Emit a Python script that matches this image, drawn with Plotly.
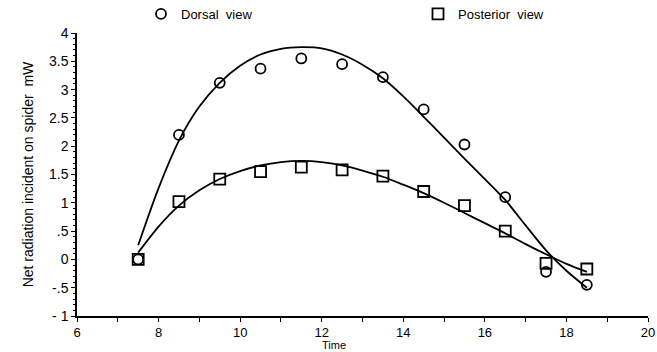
import plotly.graph_objects as go

time_pts = [7.5, 8.5, 9.5, 10.5, 11.5, 12.5, 13.5, 14.5, 15.5, 16.5, 17.5, 18.5]
dorsal = [0.0, 2.2, 3.12, 3.37, 3.55, 3.45, 3.22, 2.65, 2.03, 1.1, -0.22, -0.45]
posterior = [0.0, 1.02, 1.42, 1.55, 1.63, 1.58, 1.47, 1.2, 0.95, 0.5, -0.07, -0.17]

fit_x = [7.5, 8.0, 8.5, 9.0, 9.5, 10.0, 10.5, 11.0, 11.5, 12.0, 12.5, 13.0,
         13.5, 14.0, 14.5, 15.0, 15.5, 16.0, 16.5, 17.0, 17.5, 18.0, 18.5]
dorsal_fit = [0.25, 1.26, 2.1, 2.7, 3.12, 3.42, 3.62, 3.72, 3.75, 3.73, 3.62, 3.44,
              3.2, 2.88, 2.52, 2.15, 1.78, 1.42, 1.05, 0.6, 0.16, -0.2, -0.5]
posterior_fit = [0.12, 0.58, 0.95, 1.22, 1.42, 1.56, 1.66, 1.72, 1.74, 1.72, 1.66, 1.57,
                 1.46, 1.32, 1.17, 1.0, 0.82, 0.64, 0.46, 0.27, 0.09, -0.08, -0.22]

y_ticks = [-1, -0.5, 0, 0.5, 1, 1.5, 2, 2.5, 3, 3.5, 4]
y_tick_labels = ["- 1", "-.5", "0", ".5", "1", "1.5", "2", "2.5", "3", "3.5", "4"]
x_ticks = [6, 8, 10, 12, 14, 16, 18, 20]

FONT = "Liberation Sans, Arial, Helvetica, sans-serif"
LINE = dict(color="black", width=1.8, shape="spline", smoothing=0.8)

fig = go.Figure()
fig.add_trace(go.Scatter(x=fit_x, y=dorsal_fit, mode="lines", line=LINE,
                         showlegend=False, hoverinfo="skip"))
fig.add_trace(go.Scatter(x=fit_x, y=posterior_fit, mode="lines", line=LINE,
                         showlegend=False, hoverinfo="skip"))
fig.add_trace(go.Scatter(x=time_pts, y=dorsal, mode="markers", name="Dorsal  view", legend="legend",
                         marker=dict(symbol="circle-open", size=10, color="black", line=dict(width=1.8))))
fig.add_trace(go.Scatter(x=time_pts, y=posterior, mode="markers", name="Posterior  view", legend="legend2",
                         marker=dict(symbol="square-open", size=11, color="black", line=dict(width=1.8))))

leg_common = dict(orientation="h", yref="container", yanchor="middle", y=1 - 14 / 352,
                  xref="container", xanchor="left",
                  itemwidth=30, font=dict(size=13, family=FONT), bgcolor="rgba(0,0,0,0)")

fig.update_layout(
    width=657, height=352,
    margin=dict(l=77, r=9, t=33, b=36, autoexpand=False),
    paper_bgcolor="white", plot_bgcolor="white",
    font=dict(family=FONT, size=13, color="black"),
    legend=dict(x=141 / 657, **leg_common),
    legend2=dict(x=418 / 657, **leg_common),
    xaxis=dict(range=[6, 20], tickvals=x_ticks, showline=True, linecolor="black", linewidth=1.5,
               ticks="outside", ticklen=4, tickcolor="black", tickwidth=1.2, showgrid=False, zeroline=False,
               minor=dict(dtick=1, tick0=6, ticks="outside", ticklen=4, tickcolor="black", tickwidth=1.2),
               tickfont=dict(size=13)),
    yaxis=dict(range=[-1, 4], tickvals=y_ticks, ticktext=y_tick_labels, showline=True, linecolor="black",
               linewidth=1.5, ticks="outside", ticklen=4, tickcolor="black", tickwidth=1.2, showgrid=False,
               zeroline=False,
               minor=dict(dtick=0.1, tick0=0, ticks="outside", ticklen=2, tickcolor="black", tickwidth=1),
               tickfont=dict(size=14),
               title=dict(text="Net radiation incident on spider  mW", font=dict(size=14), standoff=12)),
    annotations=[dict(text="Time", xref="paper", yref="paper", x=0.45, y=-0.127, xanchor="center",
                      yanchor="bottom", borderpad=0, showarrow=False, font=dict(size=11))],
)

fig.write_html("out.html")
